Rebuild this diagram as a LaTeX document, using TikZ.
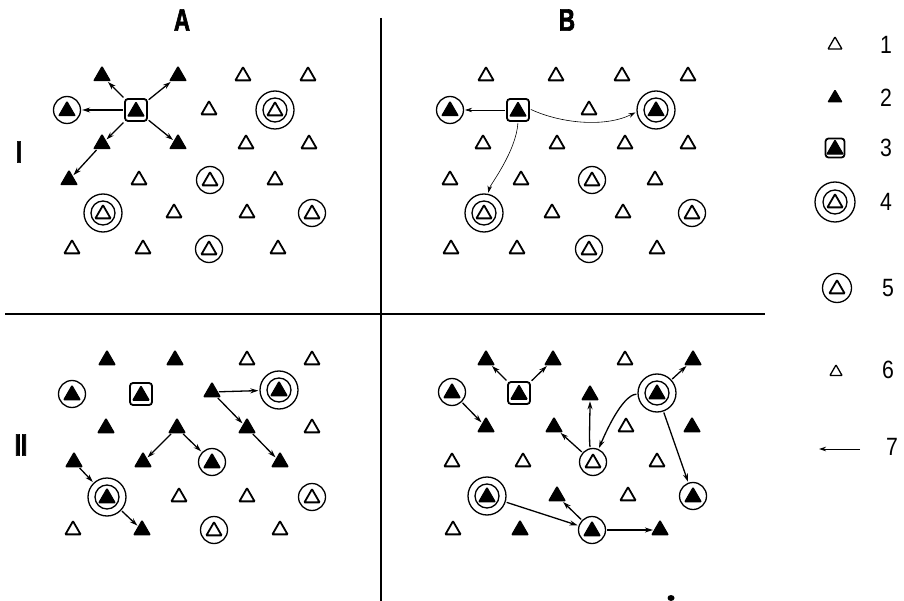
\documentclass[tikz,border=0pt]{standalone}
\usepackage{fontspec}
\setmainfont{Liberation Sans}
\newfontfamily\headfont[FakeStretch=0.72, FakeBold=2]{Liberation Sans Bold}
\newfontfamily\keyfont[FakeStretch=0.85]{Liberation Sans}
\usetikzlibrary{shapes.geometric,arrows.meta}

\tikzset{
  tri/.style={regular polygon, regular polygon sides=3, draw, line width=1.8pt,
    minimum size=17.5pt, inner sep=0pt, rounded corners=0.6pt},
  ftri/.style={tri, fill=black, line width=1pt, minimum size=19pt},
  cring/.style={circle, draw, line width=1.3pt, minimum size=27pt, inner sep=0pt,
    path picture={\node[#1] at ([yshift=-1pt]path picture bounding box.center) {};}},
  dring/.style={circle, draw, line width=1.3pt, minimum size=38pt, inner sep=0pt,
    path picture={\node[circle, draw, line width=1.3pt, minimum size=24pt] at (path picture bounding box.center) {};
      \node[#1] at ([yshift=-1pt]path picture bounding box.center) {};}},
  box/.style={rectangle, draw, line width=1.8pt, rounded corners=3pt, minimum size=22pt, inner sep=0pt,
    path picture={\node[ftri, minimum size=19pt] at ([yshift=-1.5pt]path picture bounding box.center) {};}},
  go/.style={-{Stealth[length=8pt,width=5pt]}, line width=1.3pt, shorten >=1pt, shorten <=1pt},
  thin go/.style={go, line width=0.6pt, -{Stealth[length=7pt,width=4.5pt]}},
  head/.style={font=\headfont\fontsize{31}{31}\selectfont},
  key/.style={font=\keyfont\fontsize{25}{25}\selectfont},
}

\begin{document}
\begin{tikzpicture}[x=1pt, y=-1pt]
\useasboundingbox (0,0) rectangle (904,601);

% Dividing lines
\draw[line width=2.4pt] (381,18) -- (381,601);
\draw[line width=2.4pt] (5,314) -- (765,314);

% Column and row headings
\node[head] (colA) at (182,20) {A};
\node[head] (colB) at (567,20) {B};
\node[head] (rowI) at (19,152) {I};
\node[head] (rowII) at (21,445) {II};

% Quadrant A-I
\node[ftri] (ai11) at (102,76) {};
\node[ftri] (ai12) at (178,76) {};
\node[tri] (ai13) at (243,76) {};
\node[tri] (ai14) at (308,76) {};
\node[cring=ftri] (ai21) at (67,110) {};
\node[box] (ai22) at (136,110) {};
\node[tri] (ai23) at (209,110) {};
\node[dring=tri] (ai24) at (275,110) {};
\node[ftri] (ai31) at (102,144) {};
\node[ftri] (ai32) at (178,144) {};
\node[tri] (ai33) at (246,144) {};
\node[tri] (ai34) at (309,144) {};
\node[ftri] (ai41) at (69,180) {};
\node[tri] (ai42) at (139,180) {};
\node[cring=tri] (ai43) at (210,180) {};
\node[tri] (ai44) at (275,180) {};
\node[dring=tri] (ai51) at (103,213) {};
\node[tri] (ai52) at (174,213) {};
\node[tri] (ai53) at (247,213) {};
\node[cring=tri] (ai54) at (312,213) {};
\node[tri] (ai61) at (72,249) {};
\node[tri] (ai62) at (143,249) {};
\node[cring=tri] (ai63) at (209,249) {};
\node[tri] (ai64) at (278,249) {};

\draw[go] (ai22) -- (ai11);
\draw[go] (ai22) -- (ai12);
\draw[go] (ai22) -- (ai21);
\draw[go] (ai22) -- (ai32);
\draw[go] (ai22) -- (ai31);
\draw[go] (ai31) -- (ai41);

% Quadrant B-I
\node[tri] (bi11) at (486,76) {};
\node[tri] (bi12) at (556,76) {};
\node[tri] (bi13) at (622,76) {};
\node[tri] (bi14) at (688,76) {};
\node[cring=ftri] (bi21) at (450,110) {};
\node[box] (bi22) at (518,110) {};
\node[tri] (bi23) at (589,110) {};
\node[dring=ftri] (bi24) at (656,110) {};
\node[tri] (bi31) at (483,144) {};
\node[tri] (bi32) at (557,144) {};
\node[tri] (bi33) at (625,144) {};
\node[tri] (bi34) at (688,144) {};
\node[tri] (bi41) at (450,180) {};
\node[tri] (bi42) at (521,180) {};
\node[cring=tri] (bi43) at (592,180) {};
\node[tri] (bi44) at (655,180) {};
\node[dring=tri] (bi51) at (484,213) {};
\node[tri] (bi52) at (552,213) {};
\node[tri] (bi53) at (623,213) {};
\node[cring=tri] (bi54) at (692,213) {};
\node[tri] (bi61) at (451,249) {};
\node[tri] (bi62) at (517,249) {};
\node[cring=tri] (bi63) at (589,249) {};
\node[tri] (bi64) at (657,249) {};

\draw[thin go] (bi22) -- (bi21);
\draw[thin go] ([yshift=1pt]bi22.east) .. controls +(30,14) and +(-32,16) .. ([yshift=-2pt]bi24.west);
\draw[thin go] (bi22.south) .. controls +(-2,30) and +(6,-28) .. (bi51);

% Quadrant A-II
\node[ftri] (aii11) at (107,360) {};
\node[ftri] (aii12) at (175,360) {};
\node[tri] (aii13) at (247,360) {};
\node[tri] (aii14) at (312,360) {};
\node[cring=ftri] (aii21) at (72,394) {};
\node[box] (aii22) at (141,394) {};
\node[ftri] (aii23) at (212,392) {};
\node[dring=ftri] (aii24) at (279,390) {};
\node[ftri] (aii31) at (106,428) {};
\node[ftri] (aii32) at (177,428) {};
\node[ftri] (aii33) at (247,428) {};
\node[tri] (aii34) at (312,428) {};
\node[ftri] (aii41) at (74,462) {};
\node[ftri] (aii42) at (143,462) {};
\node[cring=ftri] (aii43) at (212,462) {};
\node[ftri] (aii44) at (280,462) {};
\node[dring=ftri] (aii51) at (107,497) {};
\node[tri] (aii52) at (179,497) {};
\node[tri] (aii53) at (247,497) {};
\node[cring=tri] (aii54) at (312,497) {};
\node[tri] (aii61) at (73,530) {};
\node[ftri] (aii62) at (142,530) {};
\node[cring=tri] (aii63) at (214,530) {};
\node[tri] (aii64) at (280,530) {};

\draw[go] (aii23) -- (aii24);
\draw[go] (aii23) -- (aii33);
\draw[go] (aii33) -- (aii44);
\draw[go] (aii32) -- (aii42);
\draw[go] (aii32) -- (aii43);
\draw[go] (aii41) -- (aii51);
\draw[go] (aii51) -- (aii62);

% Quadrant B-II
\node[ftri] (bii11) at (486,360) {};
\node[ftri] (bii12) at (553,360) {};
\node[tri] (bii13) at (625,360) {};
\node[ftri] (bii14) at (693,360) {};
\node[cring=ftri] (bii21) at (452,392) {};
\node[box] (bii22) at (519,393) {};
\node[ftri] (bii23) at (590,395) {};
\node[dring=ftri] (bii24) at (657,393) {};
\node[ftri] (bii31) at (486,427) {};
\node[ftri] (bii32) at (554,427) {};
\node[tri] (bii33) at (626,427) {};
\node[ftri] (bii34) at (692,427) {};
\node[tri] (bii41) at (452,462) {};
\node[tri] (bii42) at (523,462) {};
\node[cring=tri] (bii43) at (593,462) {};
\node[tri] (bii44) at (657,462) {};
\node[dring=ftri] (bii51) at (487,496) {};
\node[ftri] (bii52) at (557,496) {};
\node[tri] (bii53) at (628,496) {};
\node[cring=ftri] (bii54) at (693,496) {};
\node[tri] (bii61) at (453,530) {};
\node[ftri] (bii62) at (520,530) {};
\node[cring=ftri] (bii63) at (592,530) {};
\node[ftri] (bii64) at (660,530) {};

\draw[go] (bii22) -- (bii11);
\draw[go] (bii22) -- (bii12);
\draw[go] (bii21) -- (bii31);
\draw[go] (bii43) -- (bii32);
\draw[go] (bii43) .. controls +(-4,-20) and +(0,18) .. (bii23);
\draw[go] (bii24) .. controls +(-35,2) and +(12,-28) .. (bii43);
\draw[go] (bii24) -- (bii14);
\draw[go] (bii24) -- (bii54);
\draw[go] (bii51) -- (bii63);
\draw[go] (bii63) -- (bii52);
\draw[go] (bii63) -- (bii64);

% Key
\node[tri, line width=1.3pt, minimum size=16pt] (k1) at (835,45) {};
\node[ftri, minimum size=16pt] (k2) at (835,98) {};
\node[box, minimum size=19pt] (k3) at (835,148) {};
\node[dring=tri, minimum size=40pt] (k4) at (835,202) {};
\node[cring=tri, minimum size=29pt] (k5) at (837,288) {};
\node[tri, line width=1.3pt, minimum size=14pt] (k6) at (836,372) {};
\coordinate (k7a) at (860,449);
\coordinate (k7b) at (818,449);
\draw[thin go, line width=0.8pt, shorten <=0pt] (k7a) -- (k7b);

\node[key] (n1) at (886,45) {1};
\node[key] (n2) at (886,98) {2};
\node[key] (n3) at (886,148) {3};
\node[key] (n4) at (886,202) {4};
\node[key] (n5) at (888,288) {5};
\node[key] (n6) at (888,370) {6};
\node[key] (n7) at (892,447) {7};

% Stray mark at the foot of the page
\fill (671,598) ellipse (3.5 and 3);
\end{tikzpicture}
\end{document}
